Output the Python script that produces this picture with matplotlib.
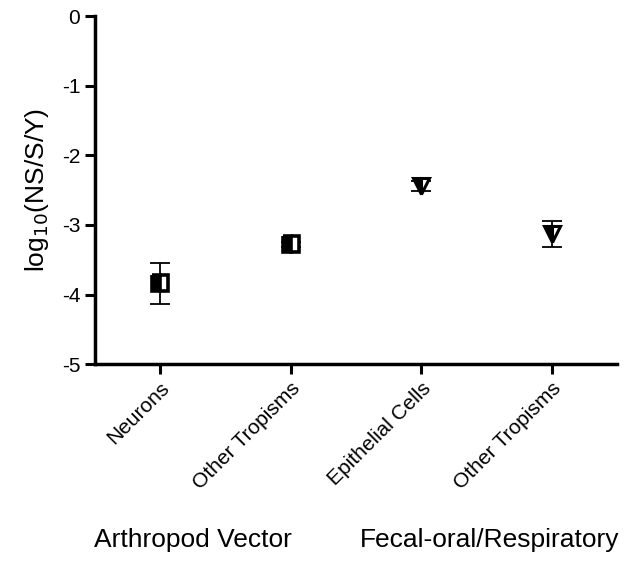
import matplotlib
matplotlib.use("Agg")
import matplotlib.pyplot as plt

plt.rcParams["font.family"] = ["Liberation Sans", "DejaVu Sans"]

categories = ["Neurons", "Other Tropisms", "Epithelial Cells", "Other Tropisms"]
means = [-3.84, -3.28, -2.44, -3.13]
errors = [0.29, 0.04, 0.07, 0.19]
markers = ["s", "s", "v", "v"]
groups = ["Arthropod Vector", "Fecal-oral/Respiratory"]

fig = plt.figure(figsize=(6.32, 5.61), dpi=100)
ax = fig.add_axes([0.150, 0.351, 0.826, 0.620])

for i, (m, e, mk) in enumerate(zip(means, errors, markers)):
    ax.errorbar(i, m, yerr=e, fmt="none", ecolor="black",
                elinewidth=1.3, capsize=7, capthick=1.3, zorder=2)
    ax.plot(i, m, marker=mk, linestyle="none",
            markersize=11.5 if mk == "s" else 12, fillstyle="left",
            markerfacecolor="black", markerfacecoloralt="white",
            markeredgecolor="black", markeredgewidth=2.6 if mk == "s" else 2.2,
            zorder=3)

ax.set_xlim(-0.5, 3.5)
ax.set_ylim(-5, 0)
ax.set_yticks([0, -1, -2, -3, -4, -5])
ax.set_yticklabels(["0", "-1", "-2", "-3", "-4", "-5"], fontsize=15)
ax.set_xticks(range(len(categories)))
ax.set_xticklabels(categories, rotation=45, ha="right", rotation_mode="anchor",
                   fontsize=15)
ax.set_ylabel(r"log$_{10}$(NS/S/Y)", fontsize=19, labelpad=8)

for side in ["top", "right"]:
    ax.spines[side].set_visible(False)
for side in ["left", "bottom"]:
    ax.spines[side].set_linewidth(2.5)
ax.tick_params(width=2.2, length=7, direction="out")

fig.text(0.305, 0.025, groups[0], ha="center", fontsize=19)
fig.text(0.775, 0.025, groups[1], ha="center", fontsize=19)

fig.savefig("out.png", dpi=100)
